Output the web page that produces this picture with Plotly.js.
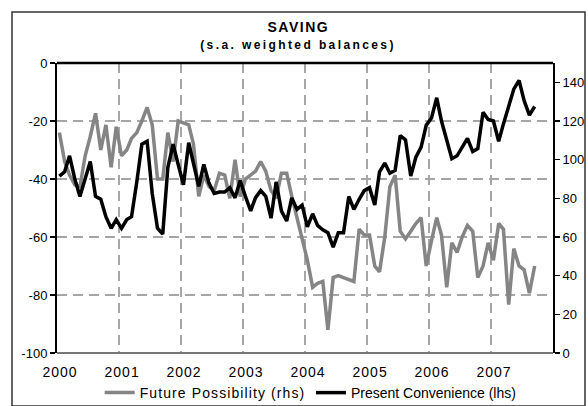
<!DOCTYPE html>
<html>
<head>
<meta charset="utf-8">
<script src="https://cdn.plot.ly/plotly-3.0.1.min.js"></script>
<style>
  html, body { margin: 0; padding: 0; background: #fff; }
  #chart { width: 588px; height: 406px; }
  g.annotation[data-index="0"] text { letter-spacing: 1.5px; }
  g.annotation[data-index="1"] text { letter-spacing: 2.4px; }
  .legendtext { letter-spacing: 1.1px; }
  .xtick text { letter-spacing: 1px; }
</style>
</head>
<body>
<div id="chart"></div>
<script>
// Monthly data, Jan 2000 .. Sep 2007
const startYear = 2000;
const startMonth = 1;

// Future Possibility (rhs) - gray
const futurePossibility = [
  114, 99, 92, 87, 86, 102, 112, 124, 105, 118, 96, 117,
  102, 105, 111, 114, 120, 127, 118, 90, 90, 114, 99, 120,
  119, 118, 108, 81, 92, 86, 84, 93, 92, 80, 100, 81,
  90, 92, 94, 99, 94, 84, 80, 93, 93, 81, 70, 60,
  48, 34, 36, 37, 12, 39, 40, 39, 38, 37, 64, 61,
  61, 45, 42, 60, 86, 92, 63, 59, 63, 67, 70, 45,
  58, 70, 61, 34, 57, 52, 60, 66, 63, 39, 45, 57,
  48, 67, 64, 25, 54, 45, 43, 31, 45
];

// Present Convenience (lhs) - black
const presentConvenience = [
  -39, -37.5, -32, -40, -46, -40, -34, -46, -47, -53, -57, -54,
  -57, -54, -53, -41, -28, -27, -45, -57, -59, -36, -28, -35,
  -42, -27.5, -35, -42.5, -35, -41.5, -45, -44.5, -44.5, -43, -46.5, -40.5,
  -46, -51, -46.5, -44, -46, -53.5, -41, -51, -54.5, -46.5, -50.5, -49,
  -56.5, -52, -56, -57.5, -58.5, -63.5, -58.5, -58.5, -46, -50.5, -47, -44,
  -43, -49, -37.5, -34.5, -38, -37, -25, -26.5, -39, -32.5, -29, -21.5,
  -19, -12, -20, -27, -33, -32, -29, -26, -30.5, -29.5, -17, -19.5,
  -20, -27, -21, -15, -9, -6, -13, -18, -15
];

const seriesNames = ['Future Possibility (rhs)', 'Present Convenience (lhs)'];
const yearTicks = ['2000-01-01','2001-01-01','2002-01-01','2003-01-01','2004-01-01','2005-01-01','2006-01-01','2007-01-01'];
const yearLabels = ['2000','2001','2002','2003','2004','2005','2006','2007'];
const lhsTicks = [-100, -80, -60, -40, -20, 0];
const lhsLabels = ['-100', '-80', '-60', '-40', '-20', '0'];
const rhsTicks = [0, 20, 40, 60, 80, 100, 120, 140];
const rhsLabels = ['0', '20', '40', '60', '80', '100', '120', '140'];

// month dates (mid-month positions)
const dates = [];
for (let k = 0; k < presentConvenience.length; k++) {
  const m = startMonth - 1 + k;
  const y = startYear + Math.floor(m / 12);
  const mm = (m % 12) + 1;
  dates.push(y + '-' + String(mm).padStart(2, '0') + '-15');
}

const FONT = 'Liberation Sans, Arial, sans-serif';

const traces = [
  {
    x: dates, y: futurePossibility, name: seriesNames[0],
    type: 'scatter', mode: 'lines', yaxis: 'y', legend: 'legend',
    line: { color: '#858585', width: 3.5 }
  },
  {
    x: dates, y: presentConvenience, name: seriesNames[1],
    type: 'scatter', mode: 'lines', yaxis: 'y2', legend: 'legend2',
    line: { color: '#000000', width: 3.5 }
  }
];

const legendBase = {
  orientation: 'h', xanchor: 'left', y: -0.138, yanchor: 'middle',
  font: { family: FONT, size: 14, color: '#000' },
  bgcolor: 'rgba(0,0,0,0)', borderwidth: 0
};

const layout = {
  width: 588, height: 406,
  margin: { l: 57, r: 35, t: 63, b: 53, pad: 0, autoexpand: false },
  paper_bgcolor: '#ffffff', plot_bgcolor: '#ffffff',
  font: { family: FONT, color: '#000', size: 13 },
  showlegend: true,
  legend: Object.assign({}, legendBase, { x: 0.086 }),
  legend2: Object.assign({}, legendBase, { x: 0.512 }),
  xaxis: {
    type: 'date',
    range: ['2000-01-01', '2008-01-01'],
    tickvals: yearTicks, ticktext: yearLabels,
    ticks: '', showline: false,
    ticklabelstandoff: 9, ticklabelshift: 3,
    showgrid: true, gridcolor: '#a6a6a6', gridwidth: 1.5, griddash: '10px,6px',
    zeroline: false,
    tickfont: { family: FONT, size: 14, color: '#000' }
  },
  // right axis (rhs)
  yaxis: {
    side: 'right', range: [0, 150],
    tickvals: rhsTicks, ticktext: rhsLabels,
    ticks: 'outside', ticklen: 5, tickwidth: 1.5, tickcolor: '#000',
    showline: true, linecolor: '#000', linewidth: 2,
    showgrid: false, zeroline: false,
    tickfont: { family: FONT, size: 13, color: '#000' }
  },
  // left axis (lhs)
  yaxis2: {
    side: 'left', overlaying: 'y', anchor: 'x', range: [-100, 0],
    tickvals: lhsTicks, ticktext: lhsLabels,
    ticks: 'outside', ticklen: 5, tickwidth: 1.5, tickcolor: '#000',
    showline: true, linecolor: '#000', linewidth: 2,
    showgrid: true, gridcolor: '#a6a6a6', gridwidth: 1.5, griddash: '10px,6px',
    zeroline: false,
    tickfont: { family: FONT, size: 13, color: '#000' }
  },
  shapes: [
    { type: 'line', xref: 'paper', yref: 'paper', x0: 0, x1: 1, y0: 1, y1: 1,
      line: { color: '#000', width: 2.5 } },
    { type: 'line', xref: 'paper', yref: 'paper', x0: 0, x1: 1, y0: 0, y1: 0,
      line: { color: '#777', width: 2 } },
    { type: 'rect', xref: 'paper', yref: 'paper',
      x0: -0.0907, x1: 1.0645, y0: -0.183, y1: 1.176,
      line: { color: '#333', width: 1.5 }, fillcolor: 'rgba(0,0,0,0)' }
  ],
  annotations: [
    { text: 'SAVING', xref: 'paper', yref: 'paper', x: 0.486, y: 1.124,
      xanchor: 'center', yanchor: 'middle', showarrow: false,
      font: { family: FONT, size: 14, color: '#000', weight: 'bold' } },
    { text: '(s.a. weighted balances)', xref: 'paper', yref: 'paper', x: 0.486, y: 1.062,
      xanchor: 'center', yanchor: 'middle', showarrow: false,
      font: { family: FONT, size: 12, color: '#000', weight: 'bold' } }
  ]
};

Plotly.newPlot('chart', traces, layout, { displayModeBar: false, staticPlot: true });
</script>
</body>
</html>
